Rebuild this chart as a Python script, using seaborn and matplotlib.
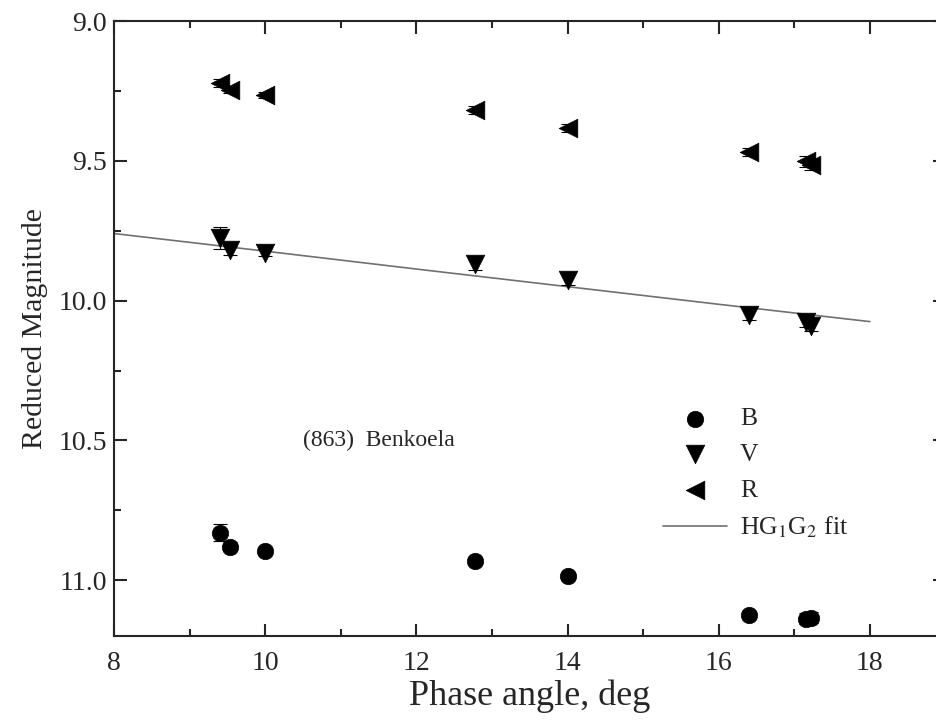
import numpy as np
import pandas as pd
import seaborn as sns
import matplotlib.pyplot as plt
from matplotlib.ticker import MultipleLocator

# Veriler
phase = [9.40, 9.53, 10.00, 12.78, 14.00, 16.40, 17.15, 17.22]
mag_B = [10.83, 10.88, 10.895, 10.932, 10.985, 11.125, 11.138, 11.134]
mag_V = [9.775, 9.82, 9.828, 9.87, 9.925, 10.05, 10.075, 10.09]
mag_R = [9.221, 9.246, 9.264, 9.318, 9.382, 9.468, 9.502, 9.514]
err_B = [0.03, 0.015, 0.012, 0.015, 0.012, 0.012, 0.02, 0.02]
err_V = [0.04, 0.015, 0.012, 0.02, 0.02, 0.02, 0.02, 0.02]
err_R = [0.015, 0.012, 0.012, 0.015, 0.015, 0.015, 0.02, 0.02]

fit_x = [8, 10, 12, 14, 16, 18]
fit_y = [9.76, 9.823, 9.887, 9.95, 10.013, 10.075]

sns.set_style('ticks')
plt.rcParams['font.family'] = ['Liberation Serif', 'DejaVu Serif']
plt.rcParams['mathtext.fontset'] = 'stix'

fig = plt.figure(figsize=(9.36, 7.27), dpi=100)
ax = fig.add_axes([0.122, 0.125, 0.888, 0.846])

df = pd.DataFrame({
    'phase': phase * 3,
    'mag': mag_B + mag_V + mag_R,
    'err': err_B + err_V + err_R,
    'band': ['B'] * 8 + ['V'] * 8 + ['R'] * 8,
})

markers = {'B': 'o', 'V': 'v', 'R': '<'}
sizes = {'B': 140, 'V': 180, 'R': 180}

# Hata çubukları
for band, sub in df.groupby('band'):
    ax.errorbar(sub['phase'], sub['mag'], yerr=sub['err'], fmt='none',
                ecolor='black', elinewidth=0.8, capsize=5, capthick=0.8, zorder=2)

# Noktalar
for band in ['B', 'V', 'R']:
    sub = df[df['band'] == band]
    sns.scatterplot(data=sub, x='phase', y='mag', marker=markers[band], s=sizes[band],
                    color='black', edgecolor='black', linewidth=0.5, ax=ax,
                    label=band, zorder=3)

# HG1G2 fit
sns.lineplot(x=fit_x, y=fit_y, color='#707070', linewidth=1.2, ax=ax,
             label=r'HG$_1$G$_2$ fit', zorder=1)

ax.set_xlim(8, 19)
ax.set_ylim(11.2, 9.0)
ax.xaxis.set_major_locator(MultipleLocator(2))
ax.xaxis.set_minor_locator(MultipleLocator(1))
ax.yaxis.set_major_locator(MultipleLocator(0.5))
ax.yaxis.set_minor_locator(MultipleLocator(0.25))
ax.yaxis.set_major_formatter(plt.FormatStrFormatter('%.1f'))
ax.tick_params(which='both', direction='in', top=True, right=True, width=1.5,
               labelsize=20)
ax.tick_params(which='major', length=9)
ax.tick_params(which='minor', length=5)
for s in ax.spines.values():
    s.set_linewidth(1.5)
ax.tick_params(axis='x', pad=11)
ax.tick_params(axis='y', pad=5)

ax.set_xlabel('Phase angle, deg', fontsize=26, labelpad=2)
ax.set_ylabel('Reduced Magnitude', fontsize=21.5, labelpad=8)

ax.text(11.5, 10.5, '(863)  Benkoela', fontsize=17, ha='center', va='center')

ax.legend(loc='upper left', bbox_to_anchor=(0.66, 0.372), frameon=False,
          fontsize=18.5, handlelength=2.5, handletextpad=0.5, labelspacing=0.5,
          borderaxespad=0, borderpad=0)

plt.savefig('out.png', dpi=100)
